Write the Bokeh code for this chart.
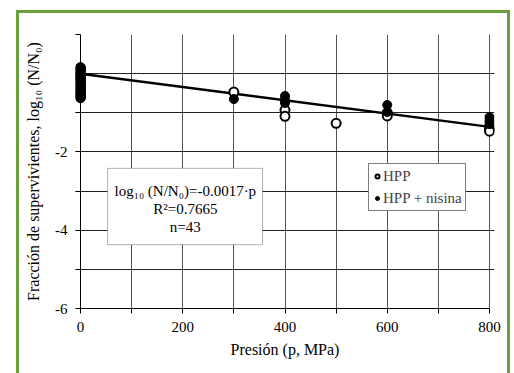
from bokeh.plotting import figure
from bokeh.models import (Range1d, FixedTicker, Legend, LegendItem, BoxAnnotation, Label,
                          Span, InlineStyleSheet)
from bokeh.embed import file_html
from bokeh.resources import INLINE

# ---- data ----
hpp_p = [0]*12 + [300, 400, 400, 500, 600, 600, 800, 800]
hpp_v = [0.15, 0.08, 0.0, -0.08, -0.16, -0.24, -0.32, -0.40, -0.48, -0.55, -0.60, -0.10,
         -0.47, -0.93, -1.09, -1.27, -1.00, -1.08, -1.40, -1.47]
nis_p = [0]*14 + [300, 400, 400, 400, 600, 600, 800, 800, 800]
nis_v = [0.16, 0.10, 0.04, -0.02, -0.08, -0.14, -0.20, -0.27, -0.34, -0.41, -0.48, -0.54, -0.60, -0.63,
         -0.65, -0.57, -0.67, -0.75, -0.80, -0.98, -1.11, -1.21, -1.29]
fit_p = [0, 800]
slope = -0.0017
fit_v = [slope * x for x in fit_p]
x_ticks = [0, 100, 200, 300, 400, 500, 600, 700, 800]
x_labels = [0, 200, 400, 600, 800]
y_ticks = [-6, -5, -4, -3, -2, -1, 0, 1]
y_labels = [-6, -4, -2]

FONT = "Liberation Serif"
GREEN = "#6aa03c"
PAD = 5 * 800 / 409  # 5 px of room so markers on the edges are not clipped

p = figure(width=514, height=373, output_backend="svg", toolbar_location=None,
           x_range=Range1d(-PAD, 800 + PAD), y_range=Range1d(-6, 1),
           min_border_left=75, min_border_right=20, min_border_top=34, min_border_bottom=65)
p.background_fill_color = "white"
p.border_fill_color = "white"
p.outline_line_color = None

# axes
p.xaxis.ticker = FixedTicker(ticks=x_ticks)
p.yaxis.ticker = FixedTicker(ticks=y_ticks)
p.xaxis.major_label_overrides = {t: ("" if t not in x_labels else str(t)) for t in x_ticks}
p.yaxis.major_label_overrides = {t: ("" if t not in y_labels else str(t)) for t in y_ticks}
for ax in (p.xaxis, p.yaxis):
    ax.minor_tick_line_color = None
    ax.major_tick_line_color = "black"
    ax.major_label_text_font = FONT
    ax.major_label_text_font_size = "15px"
    ax.major_label_text_color = "black"
    ax.axis_label_text_font = FONT
    ax.axis_label_text_font_style = "normal"
    ax.axis_label_text_color = "black"
p.xaxis.bounds = (0, 800)
p.xaxis.axis_line_color = "black"
p.xaxis.major_tick_in = 0
p.xaxis.major_tick_out = 5
p.yaxis.axis_line_color = None
p.yaxis.major_tick_in = 5
p.yaxis.major_tick_out = 0
p.xaxis.axis_label = "Presión (p, MPa)"
p.yaxis.axis_label = "Fracción de supervivientes, log₁₀ (N/N₀)"
p.xaxis.axis_label_text_font_size = "16px"
p.yaxis.axis_label_text_font_size = "16px"
p.xaxis.major_label_standoff = 8
p.yaxis.major_label_standoff = 8
p.xaxis.axis_label_standoff = 6
p.yaxis.axis_label_standoff = 10

p.xgrid.grid_line_color = "#555555"
p.ygrid.grid_line_color = "#222222"
p.ygrid.bounds = (0, 800)
p.xgrid.grid_line_width = 1
p.ygrid.grid_line_width = 1
p.add_layout(Span(location=0, dimension="height", line_color="black", line_width=1))

# fit line
p.line(fit_p, fit_v, line_color="black", line_width=2.5)

# points
r_hpp = p.scatter(hpp_p, hpp_v, size=9, marker="circle", fill_color="white",
                  line_color="black", line_width=2)
r_nis = p.scatter(nis_p, nis_v, size=9, marker="circle", fill_color="black",
                  line_color="black", line_width=1)

legend = Legend(items=[LegendItem(label="HPP", renderers=[r_hpp]),
                       LegendItem(label="HPP + nisina", renderers=[r_nis])],
                location=(293, 97), label_text_font=FONT, label_text_font_size="15px",
                label_height=18, glyph_height=18, glyph_width=10, label_standoff=1,
                spacing=4, padding=3, margin=0, border_line_color="black",
                border_line_width=1, background_fill_color="white", background_fill_alpha=1)
p.add_layout(legend, "center")

# equation box
p.add_layout(BoxAnnotation(left=53, right=356, top=-2.42, bottom=-4.37,
                           fill_color="white", fill_alpha=1, line_color="black", line_width=1))
for txt, yy in [("log₁₀ (N/N₀)=-0.0017·p", -3.01), ("R²=0.7665", -3.47), ("n=43", -3.93)]:
    p.add_layout(Label(x=205, y=yy, text=txt, text_align="center", text_baseline="middle",
                       text_font=FONT, text_font_size="15px", text_color="black"))

# green frame around the whole figure
p.stylesheets = [InlineStyleSheet(css=f"""
:host {{ position: relative; }}
:host::after {{
  content: ""; position: absolute; left: 16px; top: 10px; width: 494px; height: 363px;
  box-sizing: border-box; border: 3px solid {GREEN}; border-bottom: none;
  pointer-events: none;
}}
""")]

open("out.html", "w").write(file_html(p, INLINE))
